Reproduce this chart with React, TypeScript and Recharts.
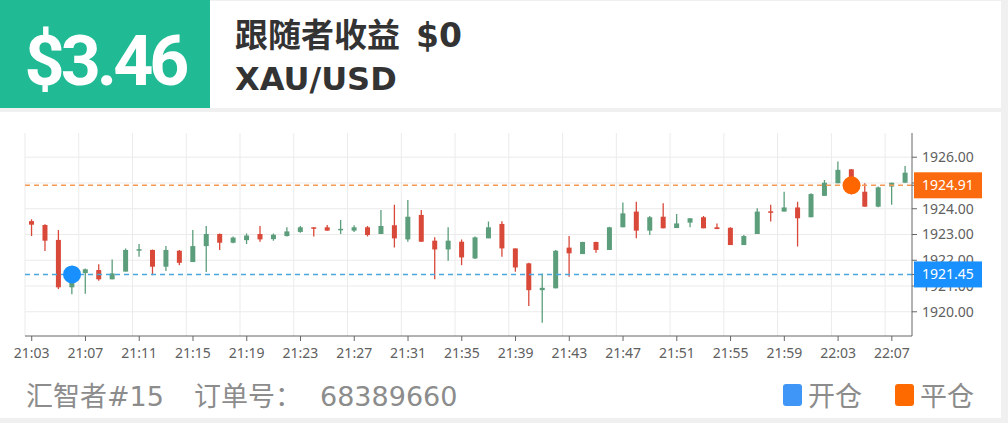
import React from 'react'
import {
  ComposedChart,
  Bar,
  XAxis,
  YAxis,
  CartesianGrid,
  ReferenceLine,
  ReferenceDot,
} from 'recharts'

const times = [
  '21:03', '21:04', '21:05', '21:06', '21:07', '21:08', '21:09', '21:10', '21:11', '21:12',
  '21:13', '21:14', '21:15', '21:16', '21:17', '21:18', '21:19', '21:20', '21:21', '21:22',
  '21:23', '21:24', '21:25', '21:26', '21:27', '21:28', '21:29', '21:30', '21:31', '21:32',
  '21:33', '21:34', '21:35', '21:36', '21:37', '21:38', '21:39', '21:40', '21:41', '21:42',
  '21:43', '21:44', '21:45', '21:46', '21:47', '21:48', '21:49', '21:50', '21:51', '21:52',
  '21:53', '21:54', '21:55', '21:56', '21:57', '21:58', '21:59', '22:00', '22:01', '22:02',
  '22:03', '22:04', '22:05', '22:06', '22:07', '22:08',
]

const opens = [
  1923.52, 1923.37, 1922.79, 1920.95, 1921.50, 1921.62, 1921.26, 1921.56, 1922.39, 1922.40,
  1921.75, 1922.37, 1921.93, 1922.55, 1923.02, 1922.68, 1922.78, 1923.02, 1922.82, 1922.94,
  1923.10, 1923.28, 1923.28, 1923.17, 1923.15, 1923.28, 1923.02, 1923.36, 1922.81, 1923.76,
  1922.76, 1922.42, 1922.72, 1922.07, 1922.85, 1923.41, 1922.46, 1921.88, 1920.84, 1920.91,
  1922.49, 1922.24, 1922.71, 1922.40, 1923.28, 1923.89, 1923.15, 1923.69, 1923.25, 1923.46,
  1923.67, 1923.28, 1923.26, 1922.59, 1923.02, 1923.90, 1923.89, 1924.05, 1923.67, 1924.50,
  1924.99, 1925.53, 1924.66, 1924.08, 1924.86, 1925.01,
]

const closes = [
  1923.38, 1922.76, 1920.95, 1921.40, 1921.65, 1921.26, 1921.49, 1922.40, 1922.43, 1921.75,
  1922.40, 1921.90, 1922.55, 1923.02, 1922.68, 1922.88, 1922.96, 1922.81, 1922.99, 1923.12,
  1923.28, 1923.24, 1923.15, 1923.22, 1923.28, 1922.98, 1923.33, 1922.85, 1923.69, 1922.72,
  1922.42, 1922.76, 1922.11, 1922.89, 1923.28, 1922.46, 1921.72, 1920.84, 1920.93, 1922.37,
  1922.27, 1922.71, 1922.40, 1923.28, 1923.82, 1923.15, 1923.67, 1923.24, 1923.43, 1923.63,
  1923.24, 1923.21, 1922.59, 1922.94, 1923.89, 1923.86, 1924.05, 1923.63, 1924.57, 1925.01,
  1925.51, 1924.94, 1924.08, 1924.83, 1925.01, 1925.40,
]

const highs = [
  1923.59, 1923.40, 1923.17, 1921.52, 1921.68, 1921.85, 1922.03, 1922.46, 1922.63, 1922.42,
  1922.55, 1922.40, 1923.17, 1923.33, 1923.04, 1922.92, 1923.04, 1923.33, 1923.04, 1923.28,
  1923.33, 1923.28, 1923.37, 1923.56, 1923.36, 1923.33, 1923.95, 1924.15, 1924.34, 1923.95,
  1922.89, 1923.28, 1922.81, 1922.92, 1923.50, 1923.51, 1922.46, 1921.90, 1921.49, 1922.40,
  1922.94, 1922.72, 1922.72, 1923.30, 1924.24, 1924.27, 1923.72, 1924.21, 1923.80, 1923.63,
  1923.72, 1923.43, 1923.28, 1922.98, 1924.02, 1924.15, 1924.66, 1924.27, 1924.60, 1925.12,
  1925.83, 1925.54, 1924.99, 1924.86, 1925.01, 1925.66,
]

const lows = [
  1922.94, 1922.36, 1920.88, 1920.68, 1920.70, 1921.20, 1921.26, 1921.56, 1922.14, 1921.42,
  1921.58, 1921.81, 1921.93, 1921.54, 1922.40, 1922.66, 1922.63, 1922.72, 1922.76, 1922.92,
  1923.07, 1922.92, 1923.15, 1923.02, 1923.10, 1922.92, 1923.02, 1922.50, 1922.72, 1922.72,
  1921.26, 1921.98, 1921.81, 1922.05, 1922.85, 1922.14, 1921.55, 1920.22, 1919.57, 1920.91,
  1921.36, 1922.24, 1922.29, 1922.40, 1923.28, 1922.85, 1922.98, 1923.24, 1923.25, 1923.28,
  1923.24, 1923.21, 1922.59, 1922.59, 1923.02, 1923.50, 1923.89, 1922.53, 1923.67, 1924.50,
  1924.99, 1924.55, 1924.08, 1924.06, 1924.15, 1925.01,
]

const gridTimes = [
  '21:03', '21:07', '21:11', '21:15', '21:19', '21:23', '21:27', '21:31', '21:35',
  '21:39', '21:43', '21:47', '21:51', '21:55', '21:59', '22:03', '22:07',
]
const yTicks = [1920, 1921, 1922, 1923, 1924, 1925, 1926]

const openTime = '21:06'
const openPrice = 1921.45
const closeTime = '22:04'
const closePrice = 1924.91

const UP = '#5c9e7c'
const DOWN = '#d9493a'
const ORANGE = '#fb6a0e'
const BLUE = '#1890ff'

const data = times.map((t, i) => ({
  time: t,
  open: opens[i],
  close: closes[i],
  high: highs[i],
  low: lows[i],
  range: [lows[i], highs[i]],
}))

function Candle(props: any) {
  const { x, y, width, height, payload } = props
  if (!payload) return null
  const { open, close, high, low } = payload
  const top = Math.min(y, y + height)
  const h = Math.abs(height)
  const k = high === low ? 0 : h / (high - low)
  const py = (v: number) => top + (high - v) * k
  const color = close >= open ? UP : DOWN
  const b1 = py(Math.max(open, close))
  const b2 = py(Math.min(open, close))
  const cx = x + width / 2
  return (
    <g>
      <line x1={cx} x2={cx} y1={top} y2={top + h} stroke={color} strokeWidth={1.3} />
      <rect x={x} y={b1} width={width} height={Math.max(b2 - b1, 1.5)} fill={color} />
    </g>
  )
}

const FONT = "'Noto Sans', sans-serif"
const HEAD_FONT = "'DejaVu Sans', 'Noto Sans CJK SC'"

// price tags are drawn as extra y ticks so they sit on top of the normal labels
function YTick({ x, y, payload }: any) {
  const v = payload.value
  if (v === closePrice || v === openPrice) {
    const color = v === closePrice ? ORANGE : BLUE
    return (
      <g>
        <rect x={x - 8} y={y - 13} width={68} height={26} fill={color} />
        <text x={x} y={y} dy="0.355em" fill="#fff" fontSize={14} fontFamily={FONT}>
          {v.toFixed(2)}
        </text>
      </g>
    )
  }
  return (
    <text x={x} y={y} dy="0.355em" fill="#606060" fontSize={14} fontFamily={FONT}>
      {v.toFixed(2)}
    </text>
  )
}

export default function App() {
  return (
    <div
      style={{
        position: 'absolute',
        left: 0,
        top: 0,
        width: 1008,
        height: 423,
        background: '#f0f0f0',
        overflow: 'hidden',
      }}
    >
      <div style={{ position: 'absolute', left: 0, top: 1, width: 1001, height: 107, background: '#fff' }} />
      <div style={{ position: 'absolute', left: 0, top: 0, width: 210, height: 108, background: '#20bb95' }} />
      <div style={{ position: 'absolute', left: 0, top: 112, width: 1001, height: 306, background: '#fff' }} />

      <svg width={1008} height={110} style={{ position: 'absolute', left: 0, top: 0 }}>
        <text
          x={105}
          y={85}
          textAnchor="middle"
          fill="#fff"
          fontFamily="Roboto, sans-serif"
          fontWeight={700}
          fontSize={70}
          letterSpacing={-4}
        >
          $3.46
        </text>
        <text x={235} y={47} fill="#333" fontFamily={HEAD_FONT} fontWeight={700} fontSize={33}>
          跟随者收益
        </text>
        <text x={416} y={47} fill="#333" fontFamily={HEAD_FONT} fontWeight={700} fontSize={33}>
          $0
        </text>
        <text x={235} y={90} fill="#333" fontFamily={HEAD_FONT} fontWeight={700} fontSize={32}>
          XAU/USD
        </text>
      </svg>

      <div style={{ position: 'absolute', left: 0, top: 120 }}>
        <ComposedChart
          width={1008}
          height={246}
          data={data}
          margin={{ top: 13, right: 0, bottom: 0, left: 25 }}
          barCategoryGap="30%"
        >
          <CartesianGrid vertical={false} horizontalValues={yTicks} stroke="#ebebeb" />
          {gridTimes.map((t) => (
            <ReferenceLine key={t} x={t} position="start" stroke="#ebebeb" />
          ))}
          <XAxis
            dataKey="time"
            interval={3}
            height={30}
            tick={{ fontSize: 14, fill: '#606060', fontFamily: FONT }}
            tickSize={5}
            tickMargin={7}
            axisLine={{ stroke: '#666' }}
            tickLine={{ stroke: '#666' }}
          />
          <YAxis
            orientation="right"
            width={96}
            domain={[1919.06, 1926.94]}
            ticks={[...yTicks, openPrice, closePrice]}
            interval={0}
            allowDataOverflow
            tick={<YTick />}
            tickSize={5}
            tickMargin={5}
            axisLine={{ stroke: '#666' }}
            tickLine={{ stroke: '#666' }}
          />
          <Bar dataKey="range" shape={Candle} isAnimationActive={false} />
          <ReferenceLine y={closePrice} stroke="#f59a55" strokeWidth={1.5} strokeDasharray="5 4" />
          <ReferenceLine y={openPrice} stroke="#4aa8e0" strokeWidth={1.5} strokeDasharray="5 4" />
          <ReferenceDot x={openTime} y={openPrice} r={9} fill={BLUE} stroke="none" />
          <ReferenceDot x={closeTime} y={closePrice} r={9} fill="#ff6600" stroke="none" />
        </ComposedChart>
      </div>

      <svg width={1008} height={80} style={{ position: 'absolute', left: 0, top: 340 }}>
        <g fill="#8c8c8c" fontFamily={HEAD_FONT} fontSize={27}>
          <text x={26} y={66}>汇智者#15</text>
          <text x={194} y={66}>订单号：</text>
          <text x={320} y={66}>68389660</text>
          <rect x={783} y={44} width={19} height={22} rx={3} fill="#3f96f7" />
          <text x={808} y={66}>开仓</text>
          <rect x={895} y={44} width={19} height={22} rx={3} fill="#ff6a00" />
          <text x={920} y={66}>平仓</text>
        </g>
      </svg>
    </div>
  )
}
